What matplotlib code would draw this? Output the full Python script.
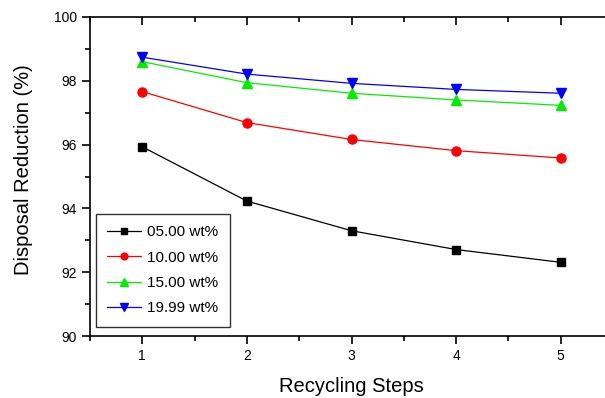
import matplotlib
matplotlib.use('Agg')
import matplotlib.pyplot as plt
from matplotlib.ticker import MultipleLocator

plt.rcParams['font.family'] = ['Liberation Sans', 'DejaVu Sans']

steps = [1, 2, 3, 4, 5]
wt05 = [95.93, 94.23, 93.30, 92.71, 92.31]
wt10 = [97.66, 96.69, 96.16, 95.81, 95.58]
wt15 = [98.60, 97.94, 97.61, 97.40, 97.23]
wt20 = [98.74, 98.21, 97.92, 97.73, 97.61]
labels = ['05.00 wt%', '10.00 wt%', '15.00 wt%', '19.99 wt%']

W, H = 605, 398
fig = plt.figure(figsize=(W/100, H/100), dpi=100)
# right edge of the frame falls just outside the picture (cropped like the original)
ax = fig.add_axes([90/W, 1-336/H, 523/W, 319/H])

ax.plot(steps, wt05, '-s', color='black', lw=0.9, ms=6, label=labels[0])
ax.plot(steps, wt10, '-o', color='red', lw=0.9, ms=6.5, label=labels[1])
ax.plot(steps, wt15, '-^', color='#00ee00', lw=0.9, ms=7, label=labels[2])
ax.plot(steps, wt20, '-v', color='blue', lw=0.9, ms=7, label=labels[3])

ax.set_xlim(0.5, 5.5)
ax.set_ylim(90, 100)
ax.xaxis.set_major_locator(MultipleLocator(1))
ax.xaxis.set_minor_locator(MultipleLocator(0.5))
ax.yaxis.set_major_locator(MultipleLocator(2))
ax.yaxis.set_minor_locator(MultipleLocator(1))
ax.tick_params(which='both', direction='out', width=1.2, labelsize=10)
ax.tick_params(axis='x', which='both', top=True, labeltop=False)
ax.tick_params(which='major', length=6)
ax.tick_params(which='minor', length=3.5)
for s in ax.spines.values():
    s.set_linewidth(1.2)
ax.spines['right'].set_visible(False)
# top ticks point into the plot
for tl in ax.xaxis.get_majorticklines()[1::2] + ax.xaxis.get_minorticklines()[1::2]:
    tl.set_marker(3)

ax.set_xlabel('Recycling Steps', fontsize=14.5, labelpad=10)
ax.set_ylabel('Disposal Reduction (%)', fontsize=14.5)
ax.yaxis.set_label_coords(-57/523, 0.52)

leg = ax.legend(loc='upper left', bbox_to_anchor=(6/523, (336-214)/319),
                borderaxespad=0, fontsize=11, frameon=True, fancybox=False,
                edgecolor='black', handlelength=2.2, handletextpad=0.4,
                borderpad=0.75, labelspacing=0.74, markerscale=0.75)
leg.get_frame().set_linewidth(1.0)

fig.savefig('out.png', dpi=100)
